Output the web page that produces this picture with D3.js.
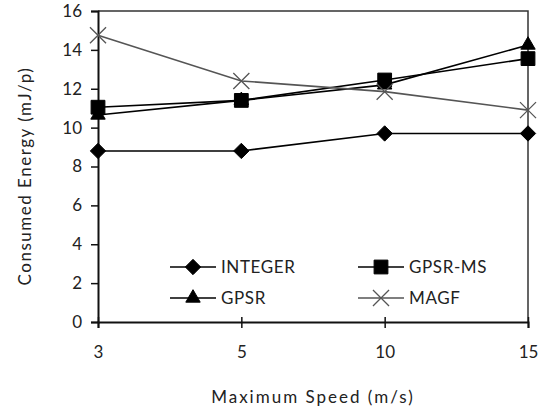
<!DOCTYPE html>
<html>
<head>
<meta charset="utf-8">
<script src="https://cdn.jsdelivr.net/npm/d3@7"></script>
<style>
  body { margin: 0; background: #fff; }
  text { font-family: Lato, "Open Sans", sans-serif; fill: #222; }
</style>
</head>
<body>
<div id="chart"></div>
<script>
const speeds = ["3", "5", "10", "15"];
const yTicks = [0, 2, 4, 6, 8, 10, 12, 14, 16];
const integer = [8.8, 8.8, 9.7, 9.7];
const gpsrMs = [11.05, 11.4, 12.45, 13.55];
const gpsr = [10.65, 11.4, 12.2, 14.25];
const magf = [14.75, 12.4, 11.85, 10.9];

const series = [
  { name: "INTEGER", values: integer, symbol: d3.symbolDiamond2, size: 150, color: "#000" },
  { name: "GPSR-MS", values: gpsrMs, symbol: d3.symbolSquare, size: 190, color: "#000" },
  { name: "GPSR", values: gpsr, symbol: d3.symbolTriangle, size: 90, color: "#000" },
  { name: "MAGF", values: magf, symbol: d3.symbolX, size: 170, color: "#555" }
];

const W = 546, H = 414;
const mLeft = 98, mRight = 528, mTop = 11, mBottom = 322;

const svg = d3.select("#chart").append("svg")
  .attr("width", W).attr("height", H);

const x = d3.scalePoint().domain(speeds).range([mLeft, mRight]);
const y = d3.scaleLinear().domain([0, 16]).range([mBottom, mTop]);

// plot frame
svg.append("path")
  .attr("d", `M${mLeft},${mTop}H${mRight}V${mBottom}`)
  .attr("fill", "none").attr("stroke", "#333").attr("stroke-width", 1.5);

const yAxis = svg.append("g")
  .attr("transform", `translate(${mLeft},0)`)
  .call(d3.axisLeft(y).tickValues(yTicks).tickSize(7).tickPadding(9));
const xAxis = svg.append("g")
  .attr("transform", `translate(0,${mBottom})`)
  .call(d3.axisBottom(x).tickSize(6).tickPadding(18));

// x ticks cross the axis
xAxis.selectAll(".tick line").attr("y1", -5);

[xAxis, yAxis].forEach(g => {
  g.select(".domain").attr("stroke", "#111").attr("stroke-width", 2);
  g.selectAll(".tick line").attr("stroke", "#111").attr("stroke-width", 1.5);
  g.selectAll(".tick text").attr("font-size", 17).attr("fill", "#222")
    .attr("font-family", "Lato, sans-serif");
});

const line = d3.line().x((d, i) => x(speeds[i])).y(d => y(d));

series.forEach(s => {
  svg.append("path")
    .datum(s.values)
    .attr("d", line)
    .attr("fill", "none")
    .attr("stroke", s.color)
    .attr("stroke-width", 1.6);
  svg.selectAll(null)
    .data(s.values)
    .enter().append("path")
    .attr("transform", (d, i) => `translate(${x(speeds[i])},${y(d)})`)
    .attr("d", d3.symbol(s.symbol, s.size))
    .attr("fill", s.symbol === d3.symbolX ? "none" : s.color)
    .attr("stroke", s.color)
    .attr("stroke-width", s.symbol === d3.symbolX ? 1.3 : 1);
});

// legend
const legendPos = [[170, 267], [358, 267], [170, 298], [358, 298]];
series.forEach((s, i) => {
  const [lx, ly] = legendPos[i];
  const g = svg.append("g").attr("transform", `translate(${lx},${ly})`);
  g.append("line").attr("x1", 0).attr("x2", 46)
    .attr("stroke", s.color).attr("stroke-width", 1.6);
  g.append("path").attr("transform", "translate(23,0)")
    .attr("d", d3.symbol(s.symbol, s.size))
    .attr("fill", s.symbol === d3.symbolX ? "none" : s.color)
    .attr("stroke", s.color)
    .attr("stroke-width", s.symbol === d3.symbolX ? 1.3 : 1);
  g.append("text").attr("x", 51).attr("dy", "0.36em")
    .attr("font-size", 17).attr("letter-spacing", 0.6).text(s.name);
});

svg.append("text")
  .attr("x", 313).attr("y", 403)
  .attr("text-anchor", "middle").attr("font-size", 17)
  .attr("letter-spacing", 2)
  .text("Maximum Speed (m/s)");

svg.append("text")
  .attr("transform", `translate(31,176) rotate(-90)`)
  .attr("text-anchor", "middle").attr("font-size", 17)
  .attr("letter-spacing", 1.5)
  .text("Consumed Energy (mJ/p)");
</script>
</body>
</html>
